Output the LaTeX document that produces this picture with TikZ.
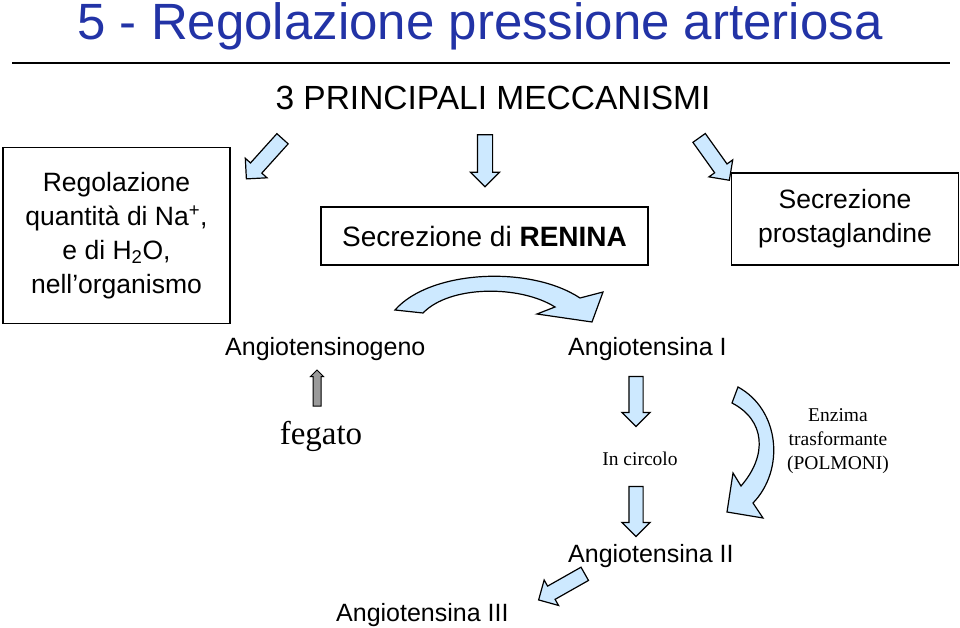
\documentclass[tikz,border=0pt]{standalone}
\usepackage{fontspec}
\setmainfont{Liberation Sans}
\newfontfamily\serifrm{Liberation Serif}
\usetikzlibrary{shapes.arrows}
\definecolor{titleblue}{HTML}{2233A6}
\definecolor{arrowblue}{HTML}{CDE9FF}
\definecolor{liverarrow}{HTML}{9A9A9A}

\begin{document}
\begin{tikzpicture}[x=1pt, y=-1pt,
        box/.style={draw, line width=1.6pt, align=center, font=\fontsize{26.5}{34}\selectfont},
        molecule/.style={font=\fontsize{25}{30}\selectfont, anchor=base west, inner sep=0pt},
        note/.style={font=\serifrm\fontsize{19.5}{24}\selectfont, align=center},
        blockarrow/.style={single arrow, draw, line width=1.2pt, fill=arrowblue, inner sep=7pt,
            single arrow head extend=7pt, minimum height=52pt},
        bentarrow/.style={draw, line width=1.2pt, fill=arrowblue, line join=miter}]

        \useasboundingbox (0,0) rectangle (960,628);

                % Title and rule
                \node[font=\fontsize{51}{60}\selectfont, text=titleblue, anchor=base] (title) at (480,40) {5 - Regolazione pressione arteriosa};
                \draw[line width=1.5pt] (12,63) -- (950,63);
                \node[font=\fontsize{33.5}{40}\selectfont, anchor=base] (mech) at (493,110) {3 PRINCIPALI MECCANISMI};

                % The three mechanisms
                \node[box, minimum width=227pt, minimum height=176pt] (water) at (116.5,235.5)
                    {Regolazione\\quantità di Na\textsuperscript{+},\\e di H\textsubscript{2}O,\\nell’organismo};
                \node[box, minimum width=327pt, minimum height=58pt, font=\fontsize{28}{34}\selectfont] (renin) at (484.5,236)
                    {Secrezione di \textbf{RENINA}};
                \node[box, minimum width=227pt, minimum height=92pt] (prost) at (845,219)
                    {Secrezione\\prostaglandine};

                \node[blockarrow, rotate=228, minimum height=54pt] (toWater) at (267,156) {};
                \node[blockarrow, rotate=-90] (toRenin) at (485,157) {};
                \node[blockarrow, rotate=-54.5] (toProst) at (712,156) {};

                % Renin cascade
                \node[molecule] (agen) at (225,355) {Angiotensinogeno};
                \node[molecule] (ang1) at (568,355) {Angiotensina I};
                \node[molecule] (ang2) at (568,562) {Angiotensina II};
                \node[molecule] (ang3) at (336,621) {Angiotensina III};

                \draw[bentarrow] (395,310) .. controls (430,270) and (530,265) .. (580,298)
                    -- (603,292) -- (592,322) -- (537,314) -- (555,307)
                    .. controls (520,285) and (450,285) .. (423,313) -- cycle;

                \node[font=\serifrm\fontsize{33}{38}\selectfont] (liver) at (321,436) {fegato};
                \node[single arrow, draw, line width=1pt, fill=liverarrow, inner sep=3.5pt,
                    single arrow head extend=2.5pt, minimum height=36pt, rotate=90] (fromLiver) at (317,390) {};

                \node[note] (blood) at (640,459) {In circolo};
                \node[blockarrow, rotate=-90, minimum height=50pt, inner sep=6.5pt] (toBlood) at (636,398) {};
                \node[blockarrow, rotate=-90, minimum height=50pt, inner sep=6.5pt] (toAng2) at (636,508) {};

                \node[note] (enzyme) at (838,441) {Enzima\\trasformante\\(POLMONI)};
                \draw[bentarrow] (738,387) .. controls (780,410) and (785,470) .. (753,503)
                    -- (763,518) -- (727,512) -- (733,473) -- (741,486)
                    .. controls (768,455) and (765,420) .. (732,403) -- cycle;

                \node[blockarrow, rotate=209.5, minimum height=53pt] (toAng3) at (565,585) {};
            \end{tikzpicture}
\end{document}
